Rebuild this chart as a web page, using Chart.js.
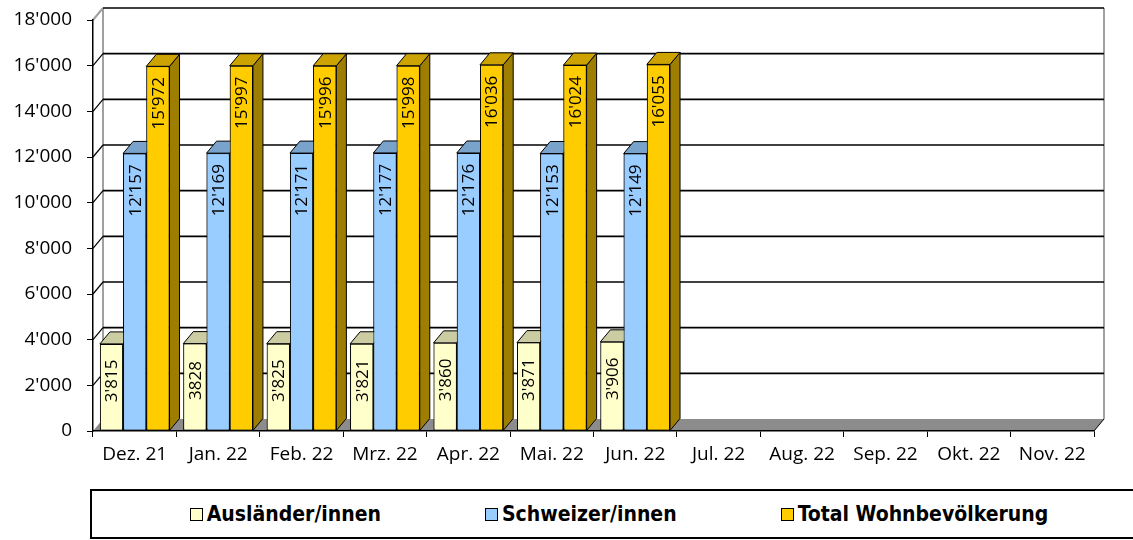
<!DOCTYPE html>
<html lang="de">
<head>
<meta charset="utf-8">
<title>Wohnbevölkerung</title>
<script src="https://cdn.jsdelivr.net/npm/chart.js@4.4.1/dist/chart.umd.min.js"></script>
<style>
  html, body { margin: 0; padding: 0; background: #fff; overflow: hidden; }
  body { width: 1133px; height: 540px; position: relative; }
  #popChart { position: absolute; left: 0; top: 0; }
  #legend {
    position: absolute; left: 90px; top: 489px; width: 1058px; height: 50px;
    box-sizing: border-box; border: 2px solid #000;
    display: flex; align-items: center; justify-content: center; gap: 104px;
    font-family: "DejaVu Sans Condensed", "DejaVu Sans", sans-serif;
    font-stretch: condensed; font-weight: bold; font-size: 21px; color: #000;
  }
  .item { display: flex; align-items: center; gap: 4px; white-space: nowrap; }
  .swatch { width: 11px; height: 11px; border: 1.5px solid #000; }
</style>
</head>
<body>
<canvas id="popChart" width="1133" height="480"></canvas>
<div id="legend"></div>
<script>
// DATA
const categories = ['Dez. 21', 'Jan. 22', 'Feb. 22', 'Mrz. 22', 'Apr. 22', 'Mai. 22',
                    'Jun. 22', 'Jul. 22', 'Aug. 22', 'Sep. 22', 'Okt. 22', 'Nov. 22'];
const auslaender = [3815, 3828, 3825, 3821, 3860, 3871, 3906, null, null, null, null, null];
const schweizer  = [12157, 12169, 12171, 12177, 12176, 12153, 12149, null, null, null, null, null];
const total      = [15972, 15997, 15996, 15998, 16036, 16024, 16055, null, null, null, null, null];
const seriesNames  = ['Ausländer/innen', 'Schweizer/innen', 'Total Wohnbevölkerung'];
const seriesColors = ['#FFFFCC', '#99CCFF', '#FFCC00'];
const yMin = 0, yMax = 18000, yStep = 2000;
// the source chart shows this one label without separator ("3828")
const plainLabels = ['0:1'];

// 3D depth of the plot (back wall offset)
const DX = 10, DY = -12;
const axisFont = { family: 'Open Sans', size: 19 };

const fmt = v => String(v).replace(/\B(?=(\d{3})+(?!\d))/g, "'");

function shade(hex, f) {
    const n = parseInt(hex.slice(1), 16);
    const r = Math.round(((n >> 16) & 255) * f);
    const g = Math.round(((n >> 8) & 255) * f);
    const b = Math.round((n & 255) * f);
    return `rgb(${r},${g},${b})`;
}

// back wall, side wall, floor and grid
const wallsPlugin = {
    id: 'walls',
    beforeDraw(chart) {
        const { ctx, chartArea: a, scales: { y } } = chart;
        const top = y.getPixelForValue(yMax);
        ctx.save();
        // floor
        ctx.fillStyle = '#8c8c8c';
        ctx.beginPath();
        ctx.moveTo(a.left, a.bottom);
        ctx.lineTo(a.right, a.bottom);
        ctx.lineTo(a.right + DX, a.bottom + DY);
        ctx.lineTo(a.left + DX, a.bottom + DY);
        ctx.closePath();
        ctx.fill();
        ctx.strokeStyle = '#000';
        ctx.lineWidth = 1;
        ctx.beginPath();
        ctx.moveTo(a.right, a.bottom);
        ctx.lineTo(a.right + DX, a.bottom + DY);
        ctx.stroke();
        // wall edges
        ctx.strokeStyle = '#a0a0a0';
        ctx.lineWidth = 2;
        ctx.beginPath();
        ctx.moveTo(a.left + DX, top + DY);
        ctx.lineTo(a.left + DX, a.bottom + DY);
        ctx.moveTo(a.right + DX, top + DY);
        ctx.lineTo(a.right + DX, a.bottom + DY);
        ctx.moveTo(a.left, top);
        ctx.lineTo(a.left + DX, top + DY);
        ctx.stroke();
        // grid lines on back wall + diagonals on side wall
        ctx.strokeStyle = '#000';
        for (let v = yMin + yStep; v <= yMax; v += yStep) {
            const py = y.getPixelForValue(v);
            ctx.lineWidth = 1.7;
            ctx.beginPath();
            ctx.moveTo(a.left + DX, py + DY);
            ctx.lineTo(a.right + DX, py + DY);
            ctx.stroke();
            if (v < yMax) {
                ctx.lineWidth = 1.2;
                ctx.beginPath();
                ctx.moveTo(a.left, py);
                ctx.lineTo(a.left + DX, py + DY);
                ctx.stroke();
            }
        }
        ctx.restore();
    }
};

// redraw bars left to right with top/side faces and rotated value labels
const bars3dPlugin = {
    id: 'bars3d',
    afterDatasetsDraw(chart) {
        const ctx = chart.ctx;
        const sets = chart.data.datasets;
        ctx.save();
        for (let j = 0; j < categories.length; j++) {
            sets.forEach((ds, i) => {
                const value = ds.data[j];
                if (value == null) return;
                const bar = chart.getDatasetMeta(i).data[j];
                const { x, y, base, width } = bar.getProps(['x', 'y', 'base', 'width'], true);
                const L = x - width / 2, R = x + width / 2;
                ctx.strokeStyle = '#000';
                ctx.lineWidth = 1;
                // side face
                ctx.fillStyle = shade(ds.backgroundColor, 0.62);
                ctx.beginPath();
                ctx.moveTo(R, y);
                ctx.lineTo(R + DX, y + DY);
                ctx.lineTo(R + DX, base + DY);
                ctx.lineTo(R, base);
                ctx.closePath();
                ctx.fill();
                ctx.stroke();
                // top face
                ctx.fillStyle = shade(ds.backgroundColor, 0.8);
                ctx.beginPath();
                ctx.moveTo(L, y);
                ctx.lineTo(L + DX, y + DY);
                ctx.lineTo(R + DX, y + DY);
                ctx.lineTo(R, y);
                ctx.closePath();
                ctx.fill();
                ctx.stroke();
                // front face
                bar.draw(ctx);
                // label
                const text = plainLabels.includes(i + ':' + j) ? String(value) : fmt(value);
                ctx.save();
                ctx.translate(x, y + 37);
                ctx.rotate(-Math.PI / 2);
                ctx.fillStyle = '#000';
                ctx.font = '17px "Open Sans"';
                ctx.textAlign = 'center';
                ctx.textBaseline = 'middle';
                ctx.fillText(text, 0, 1);
                ctx.restore();
            });
        }
        ctx.restore();
    }
};

const popChart = new Chart(document.getElementById('popChart'), {
    type: 'bar',
    data: {
        labels: categories,
        datasets: [auslaender, schweizer, total].map((values, i) => ({
            label: seriesNames[i],
            data: values,
            backgroundColor: seriesColors[i],
            borderColor: '#000',
            borderWidth: 1,
            borderSkipped: false,
            barPercentage: 1,
            categoryPercentage: 0.835
        }))
    },
    options: {
        responsive: false,
        animation: false,
        layout: { padding: { top: 20, right: 39, left: 0, bottom: 0 } },
        plugins: {
            legend: { display: false },
            tooltip: { enabled: false }
        },
        scales: {
            x: {
                grid: { drawOnChartArea: false, drawTicks: true, tickLength: 6, color: '#000', offset: true },
                border: { display: true, color: '#000', width: 1.5 },
                ticks: { color: '#000', font: axisFont, padding: 6, maxRotation: 0, autoSkip: false },
                afterFit: s => { s.height = 49; }
            },
            y: {
                min: yMin,
                max: yMax,
                grid: { drawOnChartArea: false, drawTicks: true, tickLength: 6, color: '#000' },
                border: { display: true, color: '#000', width: 1.5 },
                ticks: { stepSize: yStep, color: '#000', font: axisFont, padding: 15, callback: v => fmt(v) },
                // label padding must not push the plot down
                afterFit: s => { s.width = 93; s.paddingTop = 0; s.paddingBottom = 0; }
            }
        }
    },
    plugins: [wallsPlugin, bars3dPlugin]
});

// legend box below the chart
const legendEl = document.getElementById('legend');
popChart.data.datasets.forEach(ds => {
    const item = document.createElement('div');
    item.className = 'item';
    const sw = document.createElement('span');
    sw.className = 'swatch';
    sw.style.background = ds.backgroundColor;
    const txt = document.createElement('span');
    txt.textContent = ds.label;
    item.append(sw, txt);
    legendEl.appendChild(item);
});
</script>
</body>
</html>
